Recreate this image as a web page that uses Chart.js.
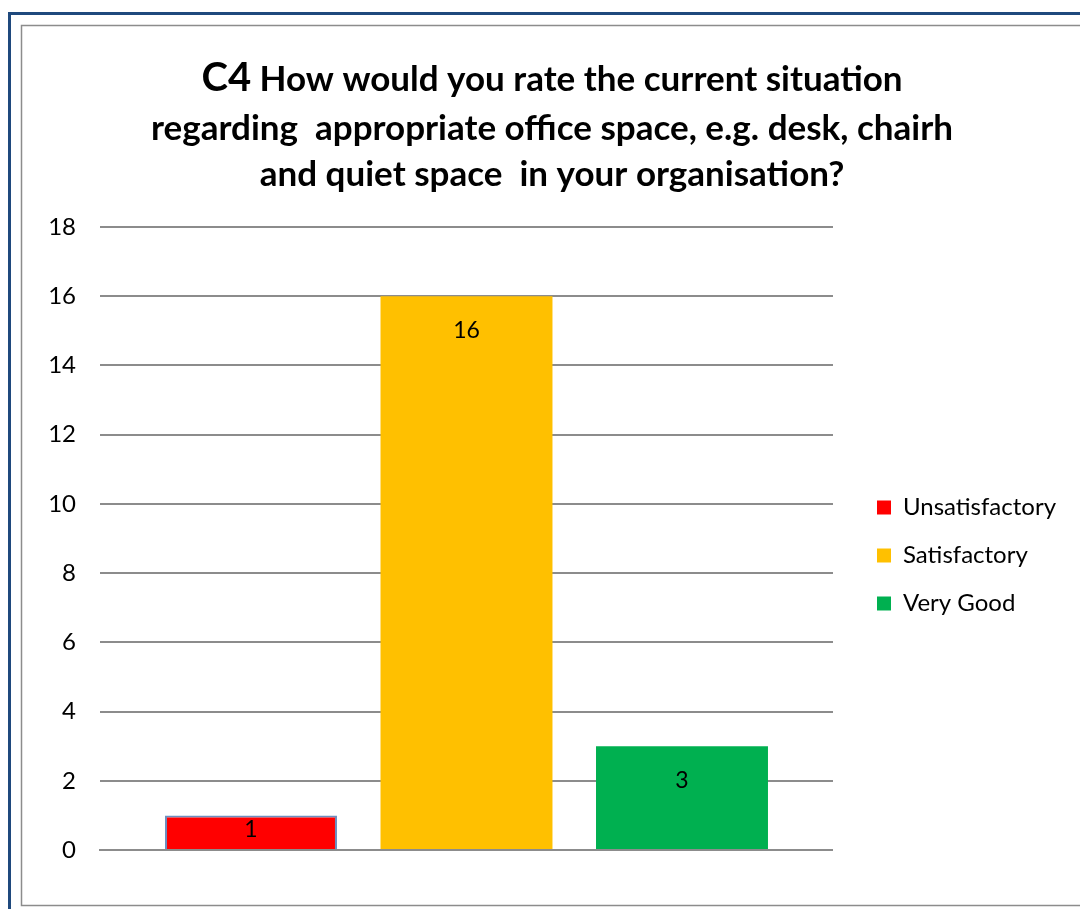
<!DOCTYPE html>
<html>
<head>
<meta charset="utf-8">
<script src="https://cdn.jsdelivr.net/npm/chart.js@4"></script>
<style>
  html, body { margin: 0; padding: 0; background: #fff; }
  #wrap { position: relative; width: 1080px; height: 909px; }
</style>
</head>
<body>
<div id="wrap"><canvas id="c4chart" width="1080" height="909"></canvas></div>
<script>
// survey answers for question C4
const ratings = ['Unsatisfactory', 'Satisfactory', 'Very Good']
const counts = [1, 16, 3]
const barColors = ['#FF0000', '#FFC000', '#00B050']
const yTicks = [0, 2, 4, 6, 8, 10, 12, 14, 16, 18]

const titleCode = 'C4'
const titleLines = [
  ' How would you rate the current situation',
  'regarding  appropriate office space, e.g. desk, chairh',
  'and quiet space  in your organisation?'
]

const FONT = 'Lato, "Open Sans", sans-serif'

// outer blue frame + grey chart border
const framePlugin = {
  id: 'frame',
  beforeDraw(chart) {
    const ctx = chart.ctx
    ctx.save()
    ctx.fillStyle = '#fff'
    ctx.fillRect(0, 0, chart.width, chart.height)
    ctx.strokeStyle = '#1F497D'
    ctx.lineWidth = 3
    ctx.beginPath()
    ctx.moveTo(9.5, chart.height)
    ctx.lineTo(9.5, 13.5)
    ctx.lineTo(chart.width, 13.5)
    ctx.stroke()
    ctx.strokeStyle = '#8C8C8C'
    ctx.lineWidth = 1.5
    ctx.strokeRect(21.5, 25.5, chart.width + 10, 880)
    ctx.restore()
  }
}

// title with the bigger question code on the first line
const titlePlugin = {
  id: 'bigTitle',
  afterDraw(chart) {
    const ctx = chart.ctx
    const cx = 552
    ctx.save()
    ctx.fillStyle = '#000'
    ctx.textBaseline = 'alphabetic'
    const big = 'bold 40px ' + FONT
    const small = 'bold 35px ' + FONT
    ctx.font = big
    const w1 = ctx.measureText(titleCode).width
    ctx.font = small
    const w2 = ctx.measureText(titleLines[0]).width
    let x = cx - (w1 + w2) / 2
    ctx.textAlign = 'left'
    ctx.font = big
    ctx.fillText(titleCode, x, 91)
    ctx.font = small
    ctx.fillText(titleLines[0], x + w1, 91)
    ctx.textAlign = 'center'
    ctx.fillText(titleLines[1], cx, 140)
    ctx.fillText(titleLines[2], cx, 186)
    ctx.restore()
  }
}

// value labels near the top inside each bar
const valueLabels = {
  id: 'valueLabels',
  afterDatasetsDraw(chart) {
    const ctx = chart.ctx
    ctx.save()
    ctx.font = '23px ' + FONT
    ctx.fillStyle = '#000'
    ctx.textAlign = 'center'
    ctx.textBaseline = 'middle'
    chart.data.datasets.forEach((ds, i) => {
      const bar = chart.getDatasetMeta(i).data[0]
      const y = Math.min(bar.y + 34, (bar.y + bar.base) / 2 - 3)
      ctx.fillText(String(ds.data[0]), bar.x, y)
    })
    ctx.restore()
  }
}

const datasets = ratings.map((name, i) => ({
  label: name,
  data: [counts[i]],
  backgroundColor: barColors[i],
  borderColor: i === 0 ? '#6C8EBF' : barColors[i],
  borderWidth: i === 0 ? 2 : 0,
  categoryPercentage: 0.882,
  barPercentage: 0.798
}))

new Chart(document.getElementById('c4chart'), {
  type: 'bar',
  data: { labels: [''], datasets: datasets },
  plugins: [framePlugin, valueLabels, titlePlugin],
  options: {
    responsive: false,
    animation: false,
    layout: { padding: { top: 227, left: 30, right: 14, bottom: 59 } },
    plugins: {
      tooltip: { enabled: false },
      title: { display: false },
      legend: {
        position: 'right',
        maxWidth: 300,
        // empty legend title only pushes the entries down a little
        title: { display: true, text: '', font: { size: 10, lineHeight: 1 }, padding: 12 },
        labels: {
          boxWidth: 14,
          boxHeight: 14,
          padding: 24,
          color: '#000',
          font: { family: FONT, size: 24 },
          generateLabels(chart) {
            return Chart.defaults.plugins.legend.labels.generateLabels(chart)
              .map(item => ({ ...item, lineWidth: 0 }))
          }
        }
      }
    },
    scales: {
      x: {
        z: 1,
        grid: { display: false },
        border: { display: true, color: '#8C8C8C', width: 2 },
        ticks: { display: false },
        afterFit(s) { s.height = 0 }
      },
      y: {
        min: 0,
        max: 18,
        afterBuildTicks(s) { s.ticks = yTicks.map(v => ({ value: v })) },
        grid: { color: '#8C8C8C', lineWidth: 2, drawTicks: false },
        border: { display: false },
        ticks: { padding: 24, color: '#000', font: { family: FONT, size: 24 } },
        afterFit(s) { s.width = 70 }
      },
      gap: {
        position: 'right',
        display: true,
        grid: { display: false },
        border: { display: false },
        ticks: { display: false },
        afterFit(s) { s.width = 20 }
      }
    }
  }
})
</script>
</body>
</html>
